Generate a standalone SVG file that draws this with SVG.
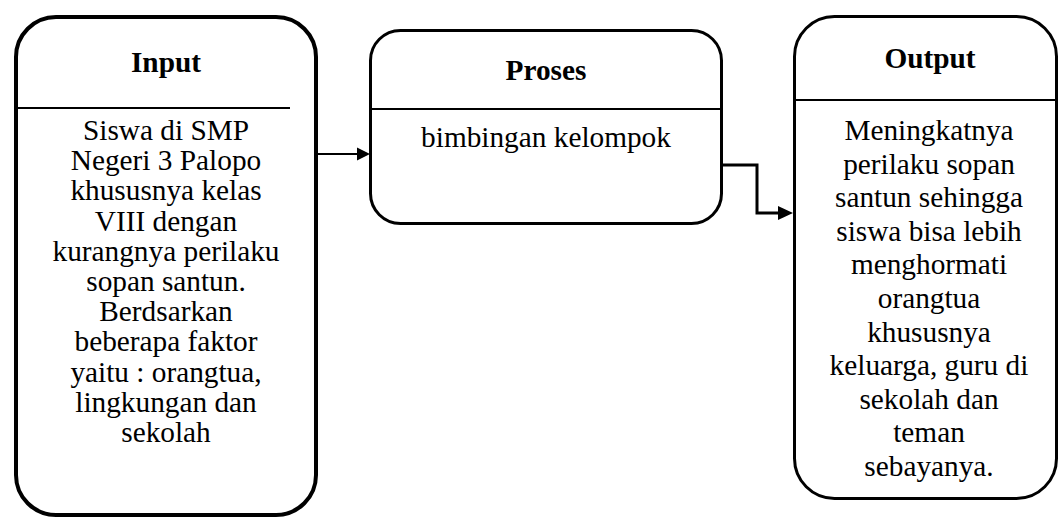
<svg xmlns="http://www.w3.org/2000/svg" width="1060" height="519" viewBox="0 0 1060 519">
<style>
.box{fill:#fff;stroke:#000}
.div{stroke:#000;stroke-width:2}
.t{font-family:"Liberation Serif","Times New Roman",serif;font-size:29.3px;fill:#000;text-anchor:middle}
.b{font-weight:bold}
.con{fill:none;stroke:#000}
</style>
<rect width="1060" height="519" fill="#fff"/>
<g id="input">
<rect class="box" x="16" y="17" width="300" height="498" rx="40" ry="40" stroke-width="4"/>
<line class="div" x1="17" y1="108" x2="290" y2="108"/>
<text class="t b" x="166" y="72">Input</text>
<text class="t" x="166" y="140">Siswa di SMP</text>
<text class="t" x="166" y="170.2">Negeri 3 Palopo</text>
<text class="t" x="166" y="200.4">khususnya kelas</text>
<text class="t" x="166" y="230.6">VIII dengan</text>
<text class="t" x="166" y="260.8">kurangnya perilaku</text>
<text class="t" x="166" y="291">sopan santun.</text>
<text class="t" x="166" y="321.2">Berdsarkan</text>
<text class="t" x="166" y="351.4">beberapa faktor</text>
<text class="t" x="166" y="381.6">yaitu : orangtua,</text>
<text class="t" x="166" y="411.8">lingkungan dan</text>
<text class="t" x="166" y="442">sekolah</text>
</g>
<g id="proses">
<rect class="box" x="370.5" y="30.5" width="351" height="193" rx="30" ry="30" stroke-width="3"/>
<line class="div" x1="372" y1="109" x2="720" y2="109"/>
<text class="t b" x="546" y="80">Proses</text>
<text class="t" x="546" y="147">bimbingan kelompok</text>
</g>
<g id="output">
<rect class="box" x="794.5" y="16.5" width="262" height="482" rx="40" ry="40" stroke-width="3"/>
<line class="div" x1="796" y1="100" x2="1055" y2="100"/>
<text class="t b" x="930" y="68">Output</text>
<text class="t" x="929" y="140">Meningkatnya</text>
<text class="t" x="929" y="173.6">perilaku sopan</text>
<text class="t" x="929" y="207.2">santun sehingga</text>
<text class="t" x="929" y="240.8">siswa bisa lebih</text>
<text class="t" x="929" y="274.4">menghormati</text>
<text class="t" x="929" y="308">orangtua</text>
<text class="t" x="929" y="341.6">khususnya</text>
<text class="t" x="929" y="375.2">keluarga, guru di</text>
<text class="t" x="929" y="408.8">sekolah dan</text>
<text class="t" x="929" y="442.4">teman</text>
<text class="t" x="929" y="476">sebayanya.</text>
</g>
<g id="connectors">
<line class="con" x1="318" y1="154" x2="358" y2="154" stroke-width="2"/>
<polygon points="357,147.5 370,154 357,160.5" fill="#000"/>
<polyline class="con" points="723,165 757,165 757,213 780,213" stroke-width="3"/>
<polygon points="778,206 793,213 778,220" fill="#000"/>
</g>
</svg>
